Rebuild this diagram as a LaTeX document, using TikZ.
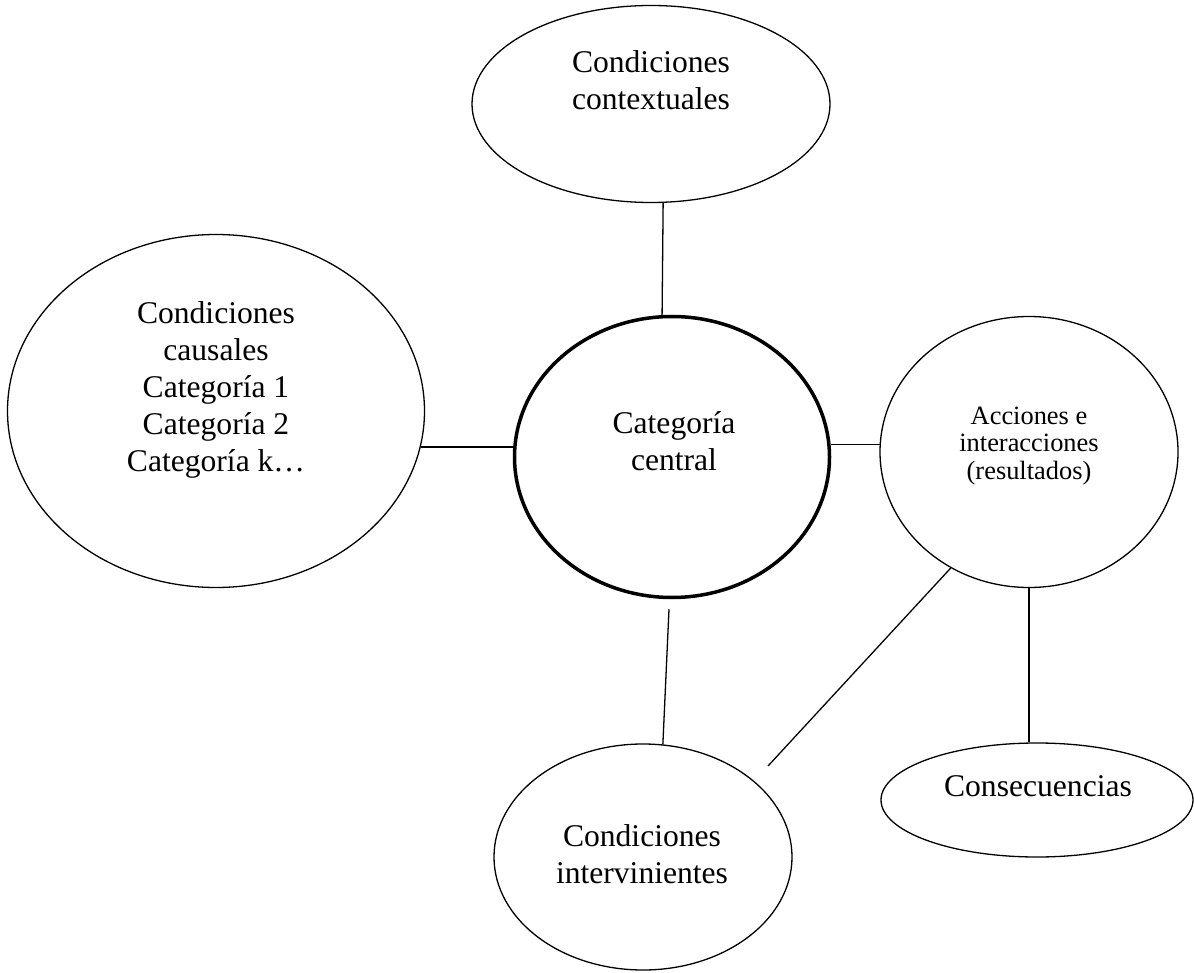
\documentclass[tikz,border=0pt]{standalone}
\usepackage{fontspec}
\setmainfont{Liberation Serif}
\usepackage{tikz}
\usetikzlibrary{shapes.geometric}

\begin{document}
\begin{tikzpicture}[x=1pt, y=-1pt,
    elip/.style={draw, ellipse, line width=1.3pt, inner sep=0pt},
    texto/.style={align=center, inner sep=0pt, font=\fontsize{31.6}{37}\selectfont},
    linea/.style={line width=1.3pt}]

\useasboundingbox (0,0) rectangle (1194,973);

\node [elip, minimum width=358, minimum height=197] (ctx) at (651,104) {};
\node [elip, minimum width=417, minimum height=353] (cau) at (216,411) {};
\node [elip, line width=3.5pt, minimum width=315, minimum height=281] (cen) at (672,457) {};
\node [elip, minimum width=298, minimum height=271] (acc) at (1029,452) {};
\node [elip, minimum width=312, minimum height=114] (con) at (1037,800) {};
\node [elip, minimum width=298, minimum height=226] (int) at (643,857) {};

\node [texto] (ctx-t) at (651,80)  {Condiciones\\contextuales};
\node [texto] (cau-t) at (216,390) {Condiciones\\causales\\Categoría 1\\Categoría 2\\Categoría k…};
\node [texto] (cen-t) at (674,441) {Categoría\\central};
\node [texto, font=\fontsize{26.4}{27.5}\selectfont] (acc-t) at (1029,446) {Acciones e\\interacciones\\(resultados)};
\node [texto] (con-t) at (1038,786) {Consecuencias};
\node [texto] (int-t) at (642,854) {Condiciones\\intervinientes};

\coordinate (fin) at (768,766);

\draw [linea] (ctx.-83) -- (cen.94);
\draw [linea] (cau.-10) -- (cau.-10 -| cen.west);
\draw [linea] (acc.177 -| cen.east) -- (acc.177);
\draw [linea] ([xshift=-3pt,yshift=-10pt]cen.south) -- (int.80);
\draw [linea] (acc.236) -- (fin);
\draw [linea] (acc.south) -- (acc.south |- con.north);

\end{tikzpicture}
\end{document}
